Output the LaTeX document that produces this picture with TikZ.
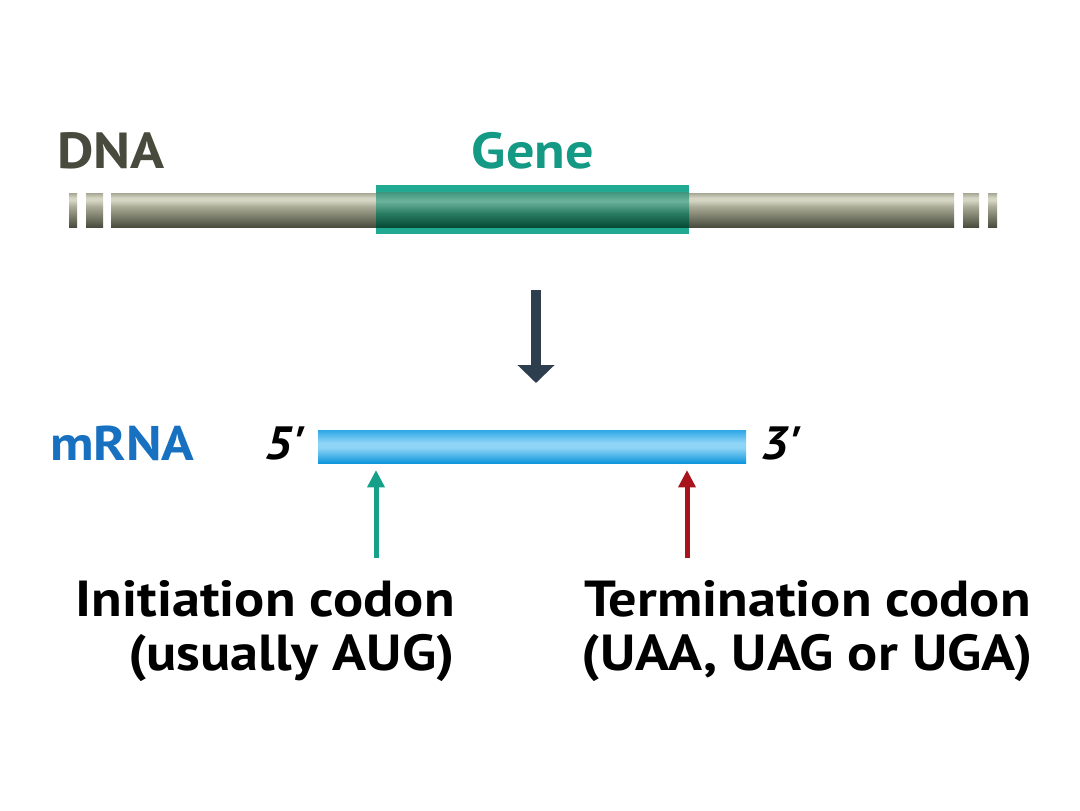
\documentclass[tikz,border=0pt]{standalone}
\usepackage{fontspec}
\setmainfont{PT Sans}[FakeStretch=1.11]
\usetikzlibrary{arrows.meta}
\definecolor{dnatext}{HTML}{474A3C}
\definecolor{genetext}{HTML}{149984}
\definecolor{mrnatext}{HTML}{1771C0}
\definecolor{arrowdark}{HTML}{2D3F4F}
\definecolor{initcol}{HTML}{16A08A}
\definecolor{termcol}{HTML}{A8141B}
\definecolor{geneband}{HTML}{22A991}
\definecolor{dnaA}{HTML}{4A4C3E}
\definecolor{dnaB}{HTML}{7A7C6A}
\definecolor{dnaC}{HTML}{A9AB96}
\definecolor{dnaD}{HTML}{D4D5C3}
\definecolor{dnaE}{HTML}{A6A792}
\definecolor{genA}{HTML}{064A36}
\definecolor{genB}{HTML}{2A7D63}
\definecolor{genC}{HTML}{6DB39C}
\definecolor{genD}{HTML}{3F957C}
\definecolor{rnaA}{HTML}{0E97DC}
\definecolor{rnaB}{HTML}{8ED4F6}
\definecolor{rnaC}{HTML}{2DA7E5}
\pgfdeclareverticalshading{dnash}{100bp}{color(0bp)=(dnaA); color(25bp)=(dnaA); color(40bp)=(dnaB); color(55bp)=(dnaC); color(64bp)=(dnaD); color(68bp)=(dnaD); color(75bp)=(dnaE); color(100bp)=(dnaE)}
\pgfdeclareverticalshading{genesh}{100bp}{color(0bp)=(genA); color(25bp)=(genA); color(45bp)=(genB); color(62bp)=(genC); color(75bp)=(genD); color(100bp)=(genD)}
\pgfdeclareverticalshading{rnash}{100bp}{color(0bp)=(rnaA); color(25bp)=(rnaA); color(48bp)=(rnaB); color(56bp)=(rnaB); color(75bp)=(rnaC); color(100bp)=(rnaC)}
\tikzset{
  dnabar/.style={shading=dnash},
  bigtitle/.style={font=\bfseries\fontsize{38}{40}\selectfont, inner sep=0pt, anchor=base},
  endlabel/.style={font=\bfseries\itshape\fontsize{35}{36}\selectfont, inner sep=0pt, anchor=base west},
  codonlabel/.style={font=\bfseries\fontsize{38}{40.5}\selectfont, inner sep=0pt, text=black},
  codonarrow/.style={line width=3.75pt, -{Triangle[length=13pt,width=12.5pt]}},
}
\begin{document}
\begin{tikzpicture}[x=0.75pt,y=-0.75pt]
\useasboundingbox[fill=white] (0,0) rectangle (1080,810);
% DNA bar
\shade[dnabar] (69,193) rectangle (77,227);
\shade[dnabar] (86,193) rectangle (103,227);
\shade[dnabar] (111,193) rectangle (954,227);
\shade[dnabar] (963,193) rectangle (979,227);
\shade[dnabar] (988,193) rectangle (997,227);
% gene
\fill[geneband] (376,185) rectangle (689,234);
\shade[shading=genesh] (376,192) rectangle (689,227);
% labels
\node[bigtitle, text=dnatext, anchor=base west] (dna) at (57,168) {DNA};
\node[bigtitle, text=genetext] (gene) at (533,168) {Gene};
% transcription arrow
\coordinate (ds) at (536,290);
\coordinate (de) at (536,383);
\draw[line width=7.5pt, arrowdark, -{Triangle[length=13.5pt,width=27pt]}] (ds) -- (de);
% mRNA
\shade[shading=rnash] (318,430) rectangle (746,463);
\node[endlabel, font=\bfseries\fontsize{36.5}{38}\selectfont, text=mrnatext] (mrna) at (50,460) {mRNA};
\node[endlabel] (five) at (264,459) {5\textquotesingle};
\node[endlabel] (three) at (760,459) {3\textquotesingle};
% codon labels
\node[codonlabel, align=right, anchor=north east] (init) at (455,580) {Initiation codon\\(usually AUG)};
\node[codonlabel, align=center, anchor=north] (term) at (807.5,580) {Termination codon\\(UAA, UAG or UGA)};
\coordinate (initpt) at (376,470);
\coordinate (termpt) at (687,470);
\coordinate (initbase) at (376,558);
\coordinate (termbase) at (687,558);
\draw[codonarrow, initcol] (initbase) -- (initpt);
\draw[codonarrow, termcol] (termbase) -- (termpt);
\end{tikzpicture}
\end{document}
